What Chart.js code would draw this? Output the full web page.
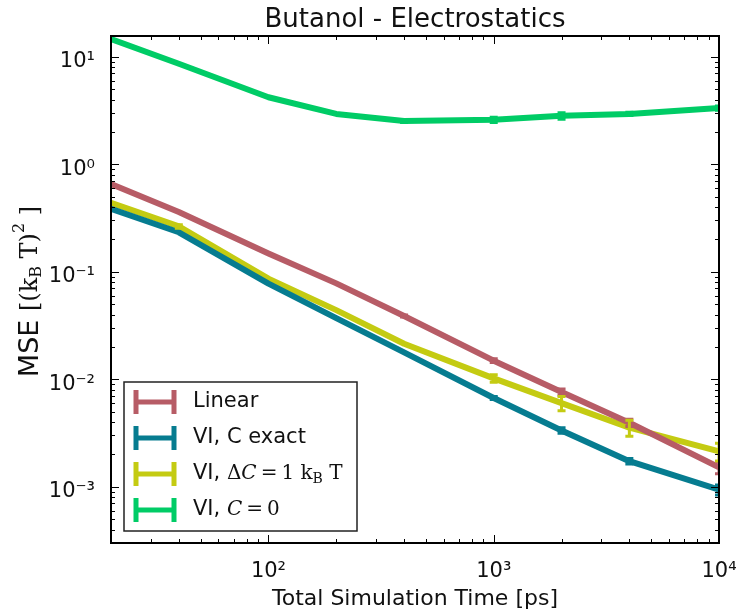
<!DOCTYPE html>
<html>
<head>
<meta charset="utf-8">
<script src="https://cdn.jsdelivr.net/npm/chart.js@4.4.1/dist/chart.umd.min.js"></script>
<style>
  html, body { margin: 0; padding: 0; background: #fff; }
</style>
</head>
<body>
<canvas id="chart" width="737" height="610"></canvas>
<script>
// simulation lengths in ps
const times = [20, 40, 100, 200, 400, 1000, 2000, 4000, 10000]

const linear = [0.656, 0.36, 0.148, 0.078, 0.0388, 0.0149, 0.0076, 0.00394, 0.00152]
const linearErr = [0, 0, 0, 0, 0.0008, 0.0006, 0.0005, 0.0003, 0.0002]

const viExact = [0.386, 0.233, 0.0776, 0.037, 0.0178, 0.0067, 0.00334, 0.00173, 0.00094]
const viExactErr = [0, 0, 0, 0, 0, 0.0002, 0.0002, 0.0001, 0.0001]

const viDelta = [0.438, 0.264, 0.0863, 0.044, 0.0214, 0.0102, 0.0060, 0.00355, 0.00214]
const viDeltaErr = [0, 0.01, 0, 0, 0, 0.0008, 0.0009, 0.0006, 0.0004]

const viZero = [14.6, 8.6, 4.2, 2.94, 2.53, 2.59, 2.82, 2.94, 3.33]
const viZeroErr = [0, 0, 0, 0, 0.08, 0.15, 0.2, 0.1, 0.15]

const seriesLabels = ['Linear', 'VI, C exact', 'VI, \u0394C=1 kB T', 'VI, C=0']
const colors = ['#b75c66', '#067c90', '#c4cb12', '#00cc66']

const xMajor = [100, 1000, 10000]
const yMajor = [0.001, 0.01, 0.1, 1, 10]

const sansF = (s) => `${s}px "DejaVu Sans"`
const serifF = (s, it) => `${it ? 'italic ' : ''}${s}px "DejaVu Serif"`

// rich text pieces for the mathtext bits
const legendParts = [
  [{ t: 'Linear', f: sansF(21) }],
  [{ t: 'VI, C exact', f: sansF(21) }],
  [
    { t: 'VI, ', f: sansF(21) },
    { t: '\u0394', f: serifF(20) },
    { t: 'C', f: serifF(20, true) },
    { t: '\u2009=\u2009', f: serifF(20) },
    { t: '1 k', f: serifF(20) },
    { t: 'B', f: serifF(14), dy: 5 },
    { t: ' T', f: serifF(20) },
  ],
  [
    { t: 'VI, ', f: sansF(21) },
    { t: 'C', f: serifF(20, true) },
    { t: '\u2009=\u2009', f: serifF(20) },
    { t: '0', f: serifF(20) },
  ],
]

const yTitleParts = [
  { t: 'MSE ', f: sansF(27) },
  { t: '[(k', f: serifF(24) },
  { t: 'B', f: serifF(16), dy: 6 },
  { t: ' T)', f: serifF(24) },
  { t: '2', f: serifF(16), dy: -11 },
  { t: ' ]', f: serifF(24) },
]

const sup = { '-': '\u207B', '0': '\u2070', '1': '\u00B9', '2': '\u00B2', '3': '\u00B3', '4': '\u2074' }
const powLabel = (v) => '10' + String(Math.round(Math.log10(v))).split('').map((c) => sup[c]).join('')

function richWidth(ctx, parts) {
  let w = 0
  parts.forEach((p) => {
    ctx.font = p.f
    w += ctx.measureText(p.t).width
  })
  return w
}

function drawRich(ctx, parts, x, y) {
  ctx.textBaseline = 'middle'
  ctx.textAlign = 'left'
  parts.forEach((p) => {
    ctx.font = p.f
    ctx.fillText(p.t, x, y + (p.dy || 0))
    x += ctx.measureText(p.t).width
  })
}

function logTicks(min, max) {
  const out = []
  for (let e = Math.floor(Math.log10(min)); e <= Math.ceil(Math.log10(max)); e++) {
    for (let m = 1; m < 10; m++) {
      const v = m * Math.pow(10, e)
      if (v >= min * 0.999 && v <= max * 1.001) out.push({ v, major: m === 1 })
    }
  }
  return out
}

const errs = [linearErr, viExactErr, viDeltaErr, viZeroErr]

const decor = {
  id: 'decor',
  afterDatasetsDraw(chart) {
    const { ctx, chartArea: a, scales } = chart
    ctx.save()
    ctx.beginPath()
    ctx.rect(a.left, a.top, a.right - a.left, a.bottom - a.top)
    ctx.clip()
    chart.data.datasets.forEach((ds, i) => {
      ctx.strokeStyle = ds.borderColor
      ctx.lineWidth = 3
      ds.data.forEach((pt, j) => {
        const e = errs[i][j]
        if (!e) return
        const px = scales.x.getPixelForValue(pt.x)
        const y1 = scales.y.getPixelForValue(pt.y - e)
        const y2 = scales.y.getPixelForValue(pt.y + e)
        ctx.beginPath()
        ctx.moveTo(px, y1)
        ctx.lineTo(px, y2)
        ctx.moveTo(px - 4, y1)
        ctx.lineTo(px + 4, y1)
        ctx.moveTo(px - 4, y2)
        ctx.lineTo(px + 4, y2)
        ctx.stroke()
      })
    })
    ctx.restore()
  },
  afterDraw(chart) {
    const { ctx, chartArea: a, scales } = chart
    ctx.save()

    // inward ticks on all sides
    ctx.strokeStyle = '#000'
    ctx.lineWidth = 1
    ctx.beginPath()
    logTicks(scales.x.min, scales.x.max).forEach((t) => {
      const px = Math.round(scales.x.getPixelForValue(t.v)) + 0.5
      const len = t.major ? 8 : 4
      ctx.moveTo(px, a.bottom)
      ctx.lineTo(px, a.bottom - len)
      ctx.moveTo(px, a.top)
      ctx.lineTo(px, a.top + len)
    })
    logTicks(scales.y.min, scales.y.max).forEach((t) => {
      const py = Math.round(scales.y.getPixelForValue(t.v)) + 0.5
      const len = t.major ? 8 : 4
      ctx.moveTo(a.left, py)
      ctx.lineTo(a.left + len, py)
      ctx.moveTo(a.right, py)
      ctx.lineTo(a.right - len, py)
    })
    ctx.stroke()

    // frame
    ctx.lineWidth = 2
    ctx.strokeRect(a.left, a.top, a.right - a.left, a.bottom - a.top)

    // y axis title
    ctx.fillStyle = '#111'
    ctx.save()
    ctx.translate(31, (a.top + a.bottom) / 2 + 2)
    ctx.rotate(-Math.PI / 2)
    const tw = richWidth(ctx, yTitleParts)
    drawRich(ctx, yTitleParts, -tw / 2, 0)
    ctx.restore()

    // legend
    const bx = a.left + 13
    const by = a.bottom - 161
    const bw = 233
    const bh = 149
    ctx.fillStyle = '#fff'
    ctx.fillRect(bx, by, bw, bh)
    ctx.strokeStyle = '#222'
    ctx.lineWidth = 1.5
    ctx.strokeRect(bx, by, bw, bh)
    chart.data.datasets.forEach((ds, i) => {
      const cy = by + 20 + i * 36
      ctx.strokeStyle = ds.borderColor
      ctx.lineWidth = 5
      ctx.beginPath()
      ctx.moveTo(bx + 10, cy)
      ctx.lineTo(bx + 52, cy)
      ctx.moveTo(bx + 12, cy - 12)
      ctx.lineTo(bx + 12, cy + 12)
      ctx.moveTo(bx + 50, cy - 12)
      ctx.lineTo(bx + 50, cy + 12)
      ctx.stroke()
      ctx.fillStyle = '#111'
      drawRich(ctx, legendParts[i], bx + 69, cy)
    })
    ctx.restore()
  },
}

const allSeries = [linear, viExact, viDelta, viZero]

new Chart(document.getElementById('chart'), {
  type: 'line',
  data: {
    datasets: allSeries.map((vals, i) => ({
      label: seriesLabels[i],
      data: vals.map((v, j) => ({ x: times[j], y: v })),
      borderColor: colors[i],
      backgroundColor: colors[i],
      borderWidth: 6,
      borderJoinStyle: 'round',
      pointRadius: 0,
      tension: 0,
    })),
  },
  options: {
    responsive: false,
    animation: false,
    devicePixelRatio: 1,
    layout: { padding: { left: 0, right: 18, top: 0, bottom: 0 } },
    plugins: {
      legend: { display: false },
      tooltip: { enabled: false },
      title: {
        display: true,
        text: 'Butanol - Electrostatics',
        fullSize: false,
        color: '#111',
        font: { family: 'DejaVu Sans', size: 26, weight: 'normal', lineHeight: 1.2 },
        padding: { top: 4.5, bottom: 0.3 },
      },
    },
    scales: {
      x: {
        type: 'logarithmic',
        min: 20,
        max: 10000,
        grid: { display: false },
        border: { display: false },
        afterFit: (s) => {
          s.height = 67
          s.paddingLeft = 0
          s.paddingRight = 0
        },
        afterBuildTicks: (s) => { s.ticks = xMajor.map((v) => ({ value: v })) },
        ticks: {
          color: '#111',
          font: { family: 'DejaVu Sans', size: 21 },
          padding: 8,
          maxRotation: 0,
          autoSkip: false,
          callback: (v) => powLabel(v),
        },
        title: {
          display: true,
          text: 'Total Simulation Time [ps]',
          color: '#111',
          font: { family: 'DejaVu Sans', size: 22, lineHeight: 1.2 },
          padding: { top: 0, bottom: -2 },
        },
      },
      y: {
        type: 'logarithmic',
        min: 0.000347,
        max: 15.6,
        grid: { display: false },
        border: { display: false },
        afterFit: (s) => {
          s.width = 111
          s.paddingTop = 0
          s.paddingBottom = 0
        },
        afterBuildTicks: (s) => { s.ticks = yMajor.map((v) => ({ value: v })) },
        ticks: {
          color: '#111',
          font: { family: 'DejaVu Sans', size: 21 },
          padding: 8,
          labelOffset: 5,
          autoSkip: false,
          callback: (v) => powLabel(v),
        },
      },
    },
  },
  plugins: [decor],
})
</script>
</body>
</html>
